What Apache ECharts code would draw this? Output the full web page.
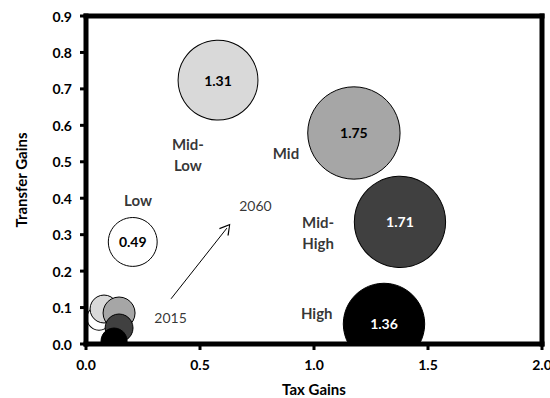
<!DOCTYPE html>
<html>
<head>
<meta charset="utf-8">
<script src="https://cdn.jsdelivr.net/npm/echarts@6/dist/echarts.min.js"></script>
<style>
  html, body { margin: 0; padding: 0; background: #fff; }
  #chart { width: 550px; height: 398px; }
</style>
</head>
<body>
<div id="chart"></div>
<script>
// income groups, drawn light to dark
const groups = ["Low", "Mid-Low", "Mid", "Mid-High", "High"];
const fills = ["#ffffff", "#d9d9d9", "#a6a6a6", "#404040", "#000000"];

// 2015 positions (small cluster near origin)
const tax2015 = [0.057, 0.079, 0.145, 0.145, 0.123];
const transfer2015 = [0.071, 0.096, 0.085, 0.044, 0.008];
const size2015 = [0.12, 0.16, 0.21, 0.16, 0.14];

// 2060 positions, size = total gains
const tax2060 = [0.205, 0.579, 1.175, 1.377, 1.307];
const transfer2060 = [0.28, 0.724, 0.579, 0.335, 0.055];
const size2060 = [0.49, 1.31, 1.75, 1.71, 1.36];

// where the group names sit (data coords)
const nameX = [0.228, 0.447, 0.877, 1.018, 1.012];
const nameY = [0.395, 0.519, 0.524, 0.305, 0.084];
const nameText = ["Low", "Mid-\nLow", "Mid", "Mid-\nHigh", "High"];

// year notes and arrow
const yearText = ["2015", "2060"];
const yearX = [0.371, 0.743];
const yearY = [0.072, 0.381];
const arrowFrom = [0.373, 0.124];
const arrowTo = [0.618, 0.318];

const xTickVals = [0, 0.5, 1, 1.5, 2];
const yTickVals = [0, 0.1, 0.2, 0.3, 0.4, 0.5, 0.6, 0.7, 0.8, 0.9];

const font = "Lato";
const bubble = (v) => 69.8 * Math.sqrt(v);

const chart = echarts.init(document.getElementById("chart"), null, { renderer: "svg" });

const mk = (xs, ys, ss, withLabel) => xs.map((x, i) => ({
  name: groups[i],
  value: [x, ys[i], ss[i]],
  itemStyle: { color: fills[i], borderColor: "#000", borderWidth: 1, opacity: 1 },
  label: {
    show: withLabel,
    formatter: ss[i].toFixed(2),
    color: i >= 3 ? "#fff" : "#000",
    fontFamily: font,
    fontWeight: "bold",
    fontSize: 14,
  },
}));

const axisText = { color: "#000", fontFamily: font, fontWeight: "bold", fontSize: 14 };

const option = {
  animation: false,
  grid: { left: 86, right: 8, top: 16, bottom: 54, outerBoundsMode: "none", containLabel: false },
  xAxis: {
    type: "value", min: 0, max: 2, interval: 0.5, z: 10,
    name: "Tax Gains", nameLocation: "middle", nameGap: 37,
    nameTextStyle: { ...axisText, fontSize: 15 },
    axisLine: { show: false }, axisTick: { show: false },
    axisLabel: { ...axisText, margin: 13, formatter: (v) => v.toFixed(1) },
    splitLine: { show: false },
  },
  yAxis: {
    type: "value", min: 0, max: 0.9, interval: 0.1, z: 10,
    name: "Transfer Gains", nameLocation: "middle", nameGap: 58,
    nameTextStyle: { ...axisText, fontSize: 15 },
    axisLine: { show: false }, axisTick: { show: false },
    axisLabel: { ...axisText, margin: 14, formatter: (v) => v.toFixed(1) },
    splitLine: { show: false },
  },
  series: [
    {
      name: "2015", type: "scatter", z: 2,
      symbolSize: (v) => bubble(v[2]),
      data: mk(tax2015, transfer2015, size2015, false),
    },
    {
      name: "2060", type: "scatter", z: 3,
      symbolSize: (v) => bubble(v[2]),
      data: mk(tax2060, transfer2060, size2060, true),
    },
    {
      name: "names", type: "scatter", symbolSize: 0, z: 4, silent: true,
      data: nameX.map((x, i) => ({ value: [x, nameY[i]], name: nameText[i] })),
      label: {
        show: true, position: "inside", formatter: "{b}", align: "center",
        color: "#000", fontFamily: font, fontWeight: "bold", fontSize: 15, lineHeight: 21,
      },
    },
    {
      name: "years", type: "scatter", symbolSize: 0, z: 4, silent: true,
      data: yearX.map((x, i) => ({ value: [x, yearY[i]], name: yearText[i] })),
      label: {
        show: true, position: "inside", formatter: "{b}",
        color: "#000", fontFamily: font, fontSize: 14,
      },
      markLine: {
        silent: true, animation: false,
        symbol: ["none", "path://M0,0 L6,10 L5,10.8 L0,2 L-5,10.8 L-6,10 Z"],
        symbolSize: [12, 11],
        lineStyle: { color: "#000", width: 1, type: "solid", opacity: 1 },
        itemStyle: { color: "#000" },
        label: { show: false },
        data: [[{ coord: arrowFrom }, { coord: arrowTo }]],
      },
    },
  ],
};

chart.setOption(option);

// thick frame + ticks as filled rects, placed through the axes
const px = (x, y) => chart.convertToPixel({ gridIndex: 0 }, [x, y]);
const [x0, y0] = px(0, 0);
const [x1, y1] = px(2, 0.9);
const T = 5;
const box = (x, y, w, h) => ({
  type: "rect", z: 20, silent: true,
  shape: { x, y, width: w, height: h }, style: { fill: "#000" },
});
const frame = [
  // white band under the plot so bubbles stop at the x axis
  { type: "rect", z: 5, silent: true, shape: { x: 0, y: y0, width: 550, height: 398 - y0 }, style: { fill: "#fff" } },
  box(x0 - T / 2, y1 - T / 2, x1 - x0 + T, T),
  box(x0 - T / 2, y0 - T / 2, x1 - x0 + T, T),
  box(x0 - T / 2, y1 - T / 2, T, y0 - y1 + T),
  box(x1 - T / 2, y1 - T / 2, T, y0 - y1 + T),
];
xTickVals.forEach((v) => {
  const [x] = px(v, 0);
  frame.push(box(x - 1.5, y0, 3, 6));
});
yTickVals.forEach((v) => {
  const [, y] = px(0, v);
  frame.push(box(x0 - 6, y - 1.5, 6, 3));
});
chart.setOption({ graphic: frame });
</script>
</body>
</html>
